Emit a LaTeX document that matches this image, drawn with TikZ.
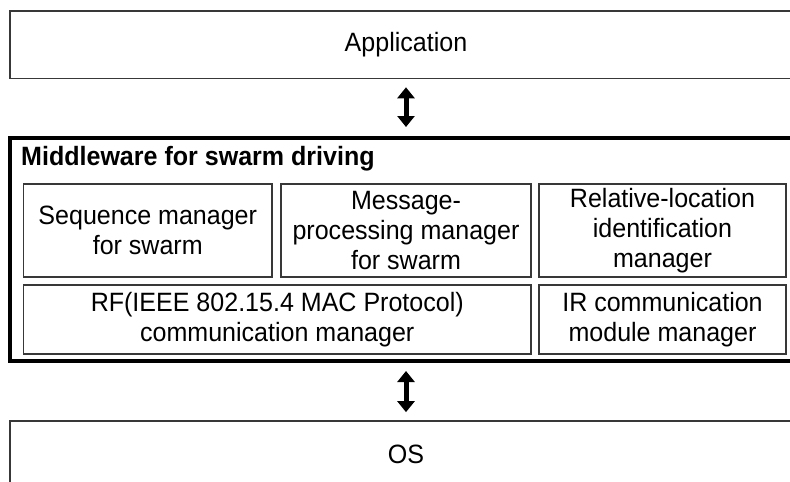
\documentclass[tikz,border=0pt]{standalone}
\usepackage{fontspec}
\setmainfont[FakeStretch=0.945]{Liberation Sans}
\usetikzlibrary{arrows.meta}
\begin{document}
\begin{tikzpicture}[x=1pt,y=-1pt,
  layer/.style={draw=black!78, line width=1.3pt, inner sep=0pt, outer sep=0pt,
    font=\fontsize{26.5}{30}\selectfont, align=center},
  mwframe/.style={draw=black, line width=4pt, inner sep=0pt, outer sep=0pt},
  biarrow/.style={line width=5pt,
    {Triangle[width=17pt,length=11pt]}-{Triangle[width=17pt,length=11pt]}}
]
\path[use as bounding box] (0,0) rectangle (790,482);
\clip (0,0) rectangle (790,482);

% outer layers
\node[layer, minimum width=792pt, minimum height=67.3pt] (app) at (406,44.65) {Application};
\node[mwframe, minimum width=791.4pt, minimum height=223pt] (mw) at (406,249) {};
\node[layer, minimum width=792pt, minimum height=67.3pt] (os) at (406,454.5) {OS};

% middleware title
\node[anchor=base west, inner sep=0pt, font=\fontsize{26.5}{30}\selectfont\bfseries] (title) at (21,165.5) {Middleware for swarm driving};

% middleware modules
\node[layer, minimum width=248.5pt, minimum height=93pt] (seq) at (147.75,230.5) {Sequence manager\\for swarm};
\node[layer, minimum width=250pt, minimum height=93pt] (msg) at (406,230.5) {Message-\\processing manager\\for swarm};
\node[layer, minimum width=247pt, minimum height=93pt] (rel) at (662.5,230.5) {Relative-location\\identification\\manager};
\node[layer, minimum width=507.5pt, minimum height=69pt] (rf) at (277.25,319.5) {RF(IEEE 802.15.4 MAC Protocol)\\communication manager};
\node[layer, minimum width=247pt, minimum height=69pt] (ir) at (662.5,319.5) {IR communication\\module manager};

% links between layers
\draw[biarrow, shorten <=9pt, shorten >=10.5pt] (app.south) -- (mw.north);
\draw[biarrow, shorten <=10.5pt, shorten >=8.7pt] (mw.south) -- (os.north);
\end{tikzpicture}
\end{document}
